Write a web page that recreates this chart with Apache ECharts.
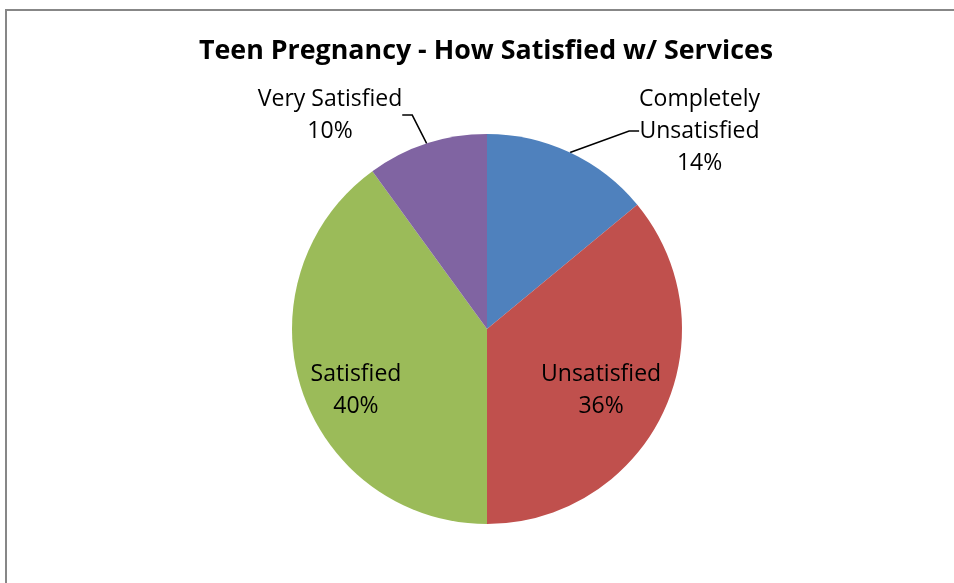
<!DOCTYPE html>
<html>
<head>
<meta charset="utf-8">
<script src="https://cdn.jsdelivr.net/npm/echarts@6/dist/echarts.min.js"></script>
<style>
  html, body { margin: 0; padding: 0; background: #fff; }
  #frame {
    position: absolute; left: 5px; top: 9px; width: 1000px; height: 600px;
    border-left: 2px solid #878787; border-top: 2px solid #878787;
    pointer-events: none;
  }
  #chart { position: absolute; left: 0; top: 0; width: 954px; height: 583px; }
</style>
</head>
<body>
<div id="chart"></div>
<div id="frame"></div>
<script>
// data
const categories = ['Completely\nUnsatisfied', 'Unsatisfied', 'Satisfied', 'Very Satisfied'];
const values = [14, 36, 40, 10];
const colors = ['#4F81BD', '#C0504D', '#9BBB59', '#8064A2'];

// pie geometry
const cx = 487, cy = 329, R = 195;
// label centres relative to the pie centre, in radius units
const labelSpots = [[1.09, -1.015], [0.585, 0.313], [-0.672, 0.313], [-0.805, -1.097]];
const outside = [true, false, false, true];

const chart = echarts.init(document.getElementById('chart'));

chart.setOption({
  animation: false,
  title: {
    text: 'Teen Pregnancy - How Satisfied w/ Services',
    left: 194,
    top: 33,
    textStyle: { fontFamily: 'Open Sans', fontWeight: 'bold', fontSize: 26.8, color: '#000' }
  },
  series: [{
    type: 'pie',
    center: [cx, cy],
    radius: R,
    startAngle: 90,
    clockwise: true,
    data: categories.map((name, i) => ({
      name: name,
      value: values[i],
      itemStyle: { color: colors[i] },
      label: { position: outside[i] ? 'outside' : 'inside' },
      labelLine: { show: outside[i] }
    })),
    label: {
      formatter: '{b}\n{d}%',
      fontFamily: 'Open Sans',
      fontSize: 23,
      lineHeight: 32,
      color: '#000'
    },
    labelLine: {
      length: 15,
      length2: 10,
      lineStyle: { color: '#000', width: 1.5 }
    },
    labelLayout: function (p) {
      const s = labelSpots[p.dataIndex];
      return {
        x: cx + s[0] * R,
        y: cy + s[1] * R,
        align: 'center',
        verticalAlign: 'middle'
      };
    },
    emphasis: { disabled: true }
  }]
});
</script>
</body>
</html>
